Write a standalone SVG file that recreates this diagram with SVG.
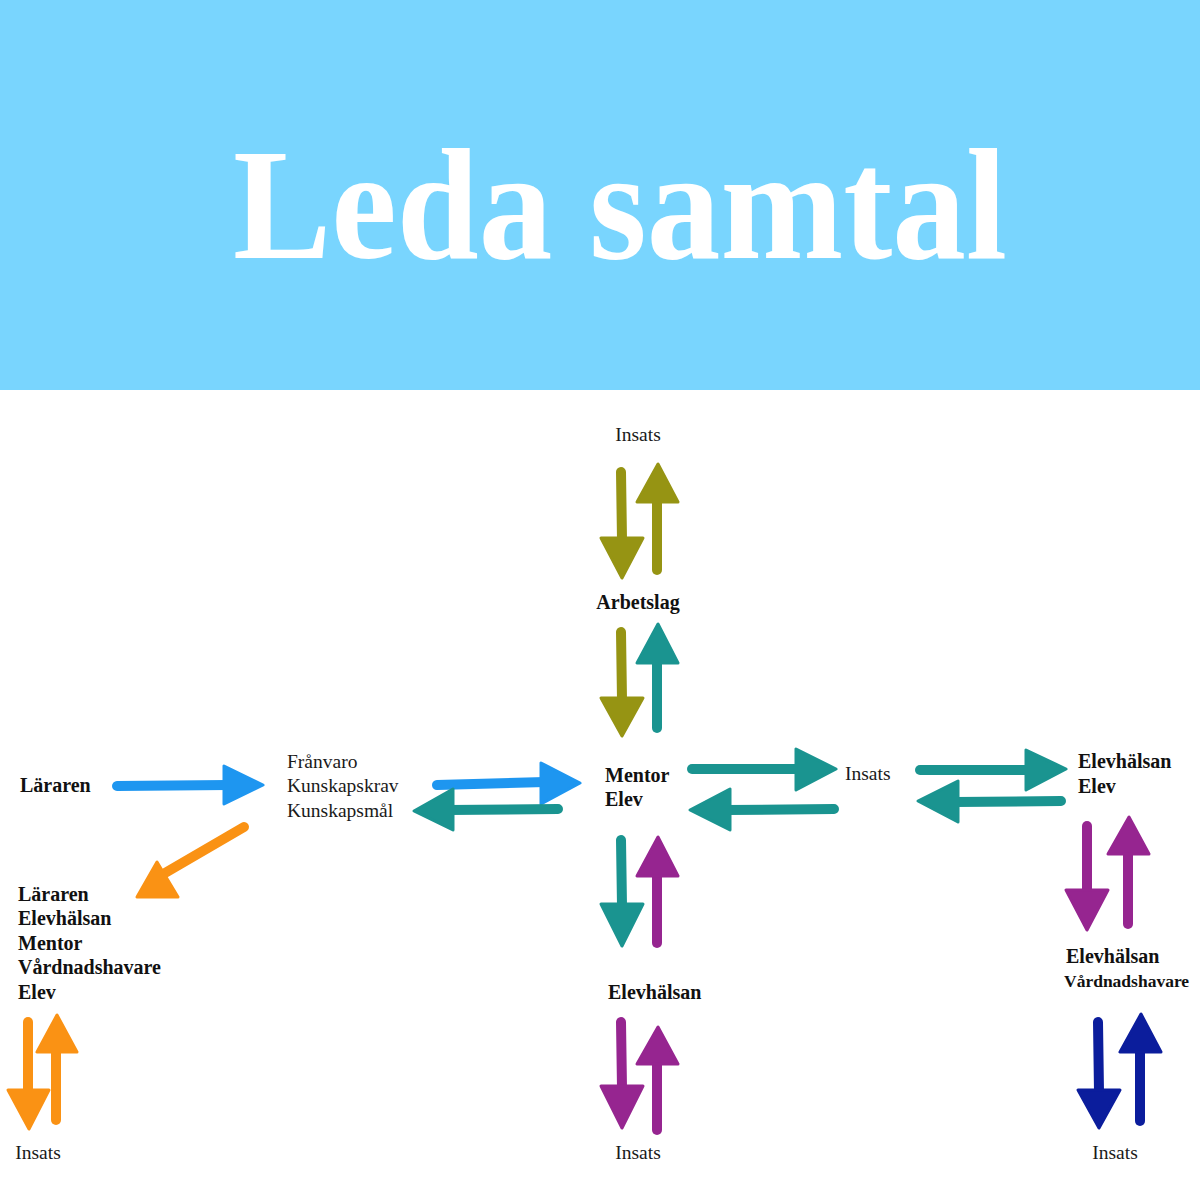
<svg xmlns="http://www.w3.org/2000/svg" width="1200" height="1200" viewBox="0 0 1200 1200">
<style>
.t{font-family:"Liberation Serif","DejaVu Serif",serif;font-size:19.5px;fill:#1a1a1a}
.b{font-weight:bold;font-size:20px;fill:#111}
.sh{fill:none;stroke-width:10;stroke-linecap:round}
.hd{stroke-width:3;stroke-linejoin:round}
.blue{stroke:#1e96f0;fill:#1e96f0}
.teal{stroke:#1a9490;fill:#1a9490}
.olive{stroke:#969413;fill:#969413}
.purple{stroke:#962590;fill:#962590}
.orange{stroke:#fa9214;fill:#fa9214}
.navy{stroke:#0b1d9c;fill:#0b1d9c}
</style>
<rect x="0" y="0" width="1200" height="390" fill="#79d5fe"/>
<rect x="0" y="390" width="1200" height="810" fill="#ffffff"/>
<text x="233" y="258" font-family="Liberation Serif, serif" font-weight="bold" font-size="158" fill="#ffffff" textLength="774" lengthAdjust="spacingAndGlyphs">Leda samtal</text>

<g id="node-insats-top"><text class="t" x="638" y="441" text-anchor="middle">Insats</text></g>
<g id="node-arbetslag"><text class="t b" x="638" y="609" text-anchor="middle">Arbetslag</text></g>
<g id="node-lararen"><text class="t b" x="20" y="792">Läraren</text></g>
<g id="node-franvaro"><text class="t" x="287" y="768">Frånvaro</text><text class="t" x="287" y="792">Kunskapskrav</text><text class="t" x="287" y="817">Kunskapsmål</text></g>
<g id="node-mentor"><text class="t b" x="605" y="782">Mentor</text><text class="t b" x="605" y="806">Elev</text></g>
<g id="node-insats-mid"><text class="t" x="845" y="780">Insats</text></g>
<g id="node-elevhalsan-elev"><text class="t b" x="1078" y="768">Elevhälsan</text><text class="t b" x="1078" y="793">Elev</text></g>
<g id="node-group-left"><text class="t b" x="18" y="901">Läraren</text><text class="t b" x="18" y="925">Elevhälsan</text><text class="t b" x="18" y="950">Mentor</text><text class="t b" x="18" y="974">Vårdnadshavare</text><text class="t b" x="18" y="999">Elev</text></g>
<g id="node-insats-left"><text class="t" x="38" y="1159" text-anchor="middle">Insats</text></g>
<g id="node-elevhalsan-center"><text class="t b" x="608" y="999">Elevhälsan</text></g>
<g id="node-insats-center"><text class="t" x="638" y="1159" text-anchor="middle">Insats</text></g>
<g id="node-elevhalsan-vard"><text class="t b" x="1066" y="963">Elevhälsan</text><text class="t b" x="1064" y="987" style="font-size:17.5px">Vårdnadshavare</text></g>
<g id="node-insats-right"><text class="t" x="1115" y="1159" text-anchor="middle">Insats</text></g>

<g id="connectors">
  <g class="olive">
    <path class="sh" d="M621 472 L622 540"/><polygon class="hd" points="601,538 643,538 622,578"/>
    <path class="sh" d="M657 500 L657 570"/><polygon class="hd" points="637,502 678,502 658,464"/>
    <path class="sh" d="M621 632 L622 700"/><polygon class="hd" points="601,698 643,698 622,736"/>
  </g>
  <g class="teal">
    <path class="sh" d="M657 662 L657 728"/><polygon class="hd" points="637,663 678,663 658,624"/>
  </g>
  <g class="blue">
    <path class="sh" d="M117 786 L228 785"/><polygon class="hd" points="224,766 224,804 263,785"/>
    <path class="sh" d="M437 785 L545 782"/><polygon class="hd" points="541,763 541,804 580,783"/>
  </g>
  <g class="teal">
    <path class="sh" d="M558 809 L448 810"/><polygon class="hd" points="453,789 453,830 414,811"/>
    <path class="sh" d="M692 769 L800 769"/><polygon class="hd" points="796,749 796,790 836,769"/>
    <path class="sh" d="M834 809 L726 810"/><polygon class="hd" points="730,789 730,830 690,810"/>
    <path class="sh" d="M920 770 L1030 770"/><polygon class="hd" points="1026,750 1026,790 1066,769"/>
    <path class="sh" d="M1061 801 L955 802"/><polygon class="hd" points="958,781 958,822 918,801"/>
    <path class="sh" d="M621 840 L622 906"/><polygon class="hd" points="601,904 643,904 622,946"/>
  </g>
  <g class="purple">
    <path class="sh" d="M657 874 L657 943"/><polygon class="hd" points="637,876 678,876 658,837"/>
    <path class="sh" d="M621 1022 L622 1088"/><polygon class="hd" points="601,1086 643,1086 622,1128"/>
    <path class="sh" d="M657 1062 L657 1130"/><polygon class="hd" points="637,1064 678,1064 658,1027"/>
    <path class="sh" d="M1087 826 L1087 892"/><polygon class="hd" points="1066,890 1108,890 1087,930"/>
    <path class="sh" d="M1128 852 L1128 924"/><polygon class="hd" points="1108,854 1149,854 1129,817"/>
  </g>
  <g class="navy">
    <path class="sh" d="M1098 1022 L1099 1092"/><polygon class="hd" points="1078,1090 1120,1090 1099,1128"/>
    <path class="sh" d="M1140 1050 L1140 1121"/><polygon class="hd" points="1120,1052 1161,1052 1141,1014"/>
  </g>
  <g class="orange">
    <path class="sh" d="M244 827 L165 873"/><polygon class="hd" points="137,897 178,897 157,862"/>
    <path class="sh" d="M28 1022 L28 1092"/><polygon class="hd" points="8,1090 49,1090 29,1129"/>
    <path class="sh" d="M56 1050 L56 1120"/><polygon class="hd" points="37,1052 77,1052 57,1015"/>
  </g>
</g>
</svg>
